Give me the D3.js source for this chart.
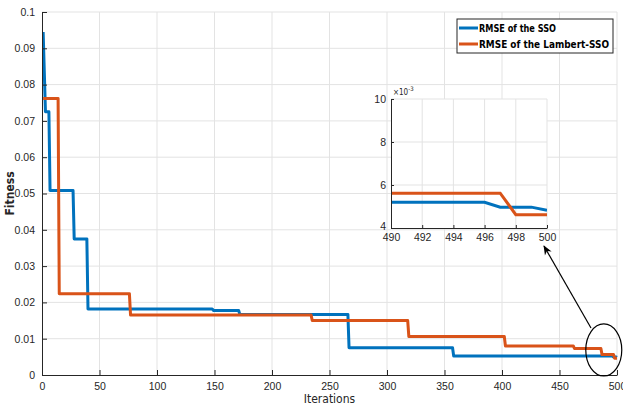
<!DOCTYPE html>
<html>
<head>
<meta charset="utf-8">
<script src="https://cdn.jsdelivr.net/npm/d3@7"></script>
<style>
  body { margin: 0; background: #fff; }
  svg { font-family: "DejaVu Sans Condensed", "DejaVu Sans", sans-serif; }
  .grid line { stroke: #e3e3e3; stroke-width: 1; }
  .axis path, .axis line { stroke: #262626; }
  .axis text { fill: #262626; font-size: 10.5px; }
</style>
</head>
<body>
<div id="chart"></div>
<script>
// vertices of the two convergence curves (iteration, fitness)
const ssoIter = [1, 3, 6, 7, 27, 28, 39, 40, 148, 149, 171, 172, 266, 267, 357, 358, 496, 497, 499, 500];
const ssoFit  = [0.0945, 0.0725, 0.0725, 0.0508, 0.0508, 0.0375, 0.0375, 0.0182, 0.0182, 0.0178, 0.0178, 0.0167,
                 0.0167, 0.0075, 0.0075, 0.0052, 0.0052, 0.00497, 0.00497, 0.00483];
const lamIter = [1, 14, 15, 76, 77, 234, 235, 318, 319, 402, 403, 462, 463, 486, 487, 497, 498, 500];
const lamFit  = [0.0762, 0.0762, 0.0224, 0.0224, 0.0165, 0.0165, 0.0150, 0.0150, 0.0106, 0.0106, 0.0080, 0.0080,
                 0.0073, 0.0073, 0.00562, 0.00562, 0.00462, 0.00462];
const seriesNames = ['RMSE of the SSO', 'RMSE of the Lambert-SSO'];
const colors = ['#0072BD', '#D95319'];

const xTicks = [0, 50, 100, 150, 200, 250, 300, 350, 400, 450, 500];
const yTicks = [0, 0.01, 0.02, 0.03, 0.04, 0.05, 0.06, 0.07, 0.08, 0.09, 0.1];
const insetXTicks = [490, 492, 494, 496, 498, 500];
const insetYTicks = [4, 6, 8, 10]; // x 10^-3

const W = 623, H = 409;
const svg = d3.select('#chart').append('svg').attr('width', W).attr('height', H);
const defs = svg.append('defs');

const series = [
  ssoIter.map((d, i) => ({ x: d, y: ssoFit[i] })),
  lamIter.map((d, i) => ({ x: d, y: lamFit[i] }))
];

// main axes
const pL = 42, pR = 617, pT = 12, pB = 375;
const x = d3.scaleLinear().domain([0, 500]).range([pL, pR]);
const y = d3.scaleLinear().domain([0, 0.1]).range([pB, pT]);

svg.append('g').attr('class', 'grid')
  .selectAll('line').data(xTicks.slice(1)).enter().append('line')
  .attr('x1', d => x(d)).attr('x2', d => x(d)).attr('y1', pT).attr('y2', pB);
svg.append('g').attr('class', 'grid')
  .selectAll('line').data(yTicks.slice(1)).enter().append('line')
  .attr('x1', pL).attr('x2', pR).attr('y1', d => y(d)).attr('y2', d => y(d));

const line = d3.line().x(d => x(d.x)).y(d => y(d.y));
defs.append('clipPath').attr('id', 'mainclip')
  .append('rect').attr('x', pL).attr('y', pT - 2).attr('width', pR - pL + 2).attr('height', pB - pT + 2);

series.forEach((s, i) => {
  svg.append('path').datum(s)
    .attr('clip-path', 'url(#mainclip)')
    .attr('fill', 'none')
    .attr('stroke', colors[i])
    .attr('stroke-width', 3)
    .attr('stroke-linejoin', 'round')
    .attr('d', line);
});

svg.append('g').attr('class', 'axis')
  .attr('transform', `translate(0,${pB})`)
  .call(d3.axisBottom(x).tickValues(xTicks).tickSizeInner(-5).tickSizeOuter(0).tickPadding(8).tickFormat(d3.format('d')));
svg.append('g').attr('class', 'axis')
  .attr('transform', `translate(${pL},0)`)
  .call(d3.axisLeft(y).tickValues(yTicks).tickSizeInner(-5).tickSizeOuter(0).tickPadding(7).tickFormat(d => String(+d.toFixed(2))));

svg.append('text')
  .attr('x', (pL + pR) / 2).attr('y', 403)
  .attr('text-anchor', 'middle').attr('font-size', 12).attr('fill', '#262626')
  .text('Iterations');
svg.append('text')
  .attr('transform', `translate(14,${(pT + pB) / 2}) rotate(-90)`)
  .attr('text-anchor', 'middle').attr('font-size', 12).attr('font-weight', 'bold').attr('fill', '#262626')
  .text('Fitness');

// legend
const lg = svg.append('g').attr('transform', 'translate(457,19)');
lg.append('rect').attr('width', 156).attr('height', 34)
  .attr('fill', '#fff').attr('stroke', '#262626').attr('stroke-width', 1);
seriesNames.forEach((n, i) => {
  const yy = 9 + i * 16;
  lg.append('line').attr('x1', 2).attr('x2', 21).attr('y1', yy).attr('y2', yy)
    .attr('stroke', colors[i]).attr('stroke-width', 3);
  lg.append('text').attr('x', 22).attr('y', yy + 4)
    .attr('font-size', 11).attr('font-weight', 600).attr('fill', '#000')
    .attr('textLength', i === 0 ? 77 : 130).attr('lengthAdjust', 'spacingAndGlyphs').text(n);
});

// ellipse + arrow
defs.append('marker').attr('id', 'arrow')
  .attr('viewBox', '0 0 10 10').attr('refX', 9).attr('refY', 5)
  .attr('markerWidth', 8).attr('markerHeight', 8).attr('orient', 'auto')
  .append('path').attr('d', 'M0,1 L10,5 L0,9 L3,5 Z').attr('fill', '#000');
svg.append('ellipse')
  .attr('cx', x(488.5)).attr('cy', y(0.0069)).attr('rx', 18).attr('ry', 26)
  .attr('fill', 'none').attr('stroke', '#000').attr('stroke-width', 1.2);
svg.append('line')
  .attr('x1', 591).attr('y1', 328).attr('x2', 544).attr('y2', 246)
  .attr('stroke', '#000').attr('stroke-width', 1.2).attr('marker-end', 'url(#arrow)');

// inset
const iL = 391, iR = 547, iT = 99, iB = 228;
const ix = d3.scaleLinear().domain([490, 500]).range([iL, iR]);
const iy = d3.scaleLinear().domain([4, 10]).range([iB, iT]);
const ig = svg.append('g');
ig.append('rect').attr('x', iL).attr('y', iT).attr('width', iR - iL).attr('height', iB - iT).attr('fill', '#fff');
ig.append('g').attr('class', 'grid')
  .selectAll('line').data(insetXTicks.slice(1)).enter().append('line')
  .attr('x1', d => ix(d)).attr('x2', d => ix(d)).attr('y1', iT).attr('y2', iB);
ig.append('g').attr('class', 'grid')
  .selectAll('line').data(insetYTicks.slice(1)).enter().append('line')
  .attr('x1', iL).attr('x2', iR).attr('y1', d => iy(d)).attr('y2', d => iy(d));

defs.append('clipPath').attr('id', 'insetclip')
  .append('rect').attr('x', iL).attr('y', iT).attr('width', iR - iL).attr('height', iB - iT);
const iline = d3.line().x(d => ix(d.x)).y(d => iy(d.y * 1000));
series.forEach((s, i) => {
  ig.append('path').datum(s)
    .attr('clip-path', 'url(#insetclip)')
    .attr('fill', 'none').attr('stroke', colors[i]).attr('stroke-width', 3)
    .attr('d', iline);
});
ig.append('g').attr('class', 'axis')
  .attr('transform', `translate(0,${iB})`)
  .call(d3.axisBottom(ix).tickValues(insetXTicks).tickSizeInner(-3).tickSizeOuter(0).tickPadding(6).tickFormat(d3.format('d')))
  .selectAll('text').attr('font-size', 9);
ig.append('g').attr('class', 'axis')
  .attr('transform', `translate(${iL},0)`)
  .call(d3.axisLeft(iy).tickValues(insetYTicks).tickSizeInner(-3).tickSizeOuter(0).tickPadding(5).tickFormat(d3.format('d')))
  .selectAll('text').attr('font-size', 9).attr('dy', d => d === 4 ? '0.1em' : '0.32em');
const ex = ig.append('text').attr('x', iL + 2).attr('y', iT - 4).attr('font-size', 8).attr('fill', '#262626');
ex.append('tspan').text('\u00d710');
ex.append('tspan').attr('dy', -4).attr('font-size', 6).text('-3');
</script>
</body>
</html>
